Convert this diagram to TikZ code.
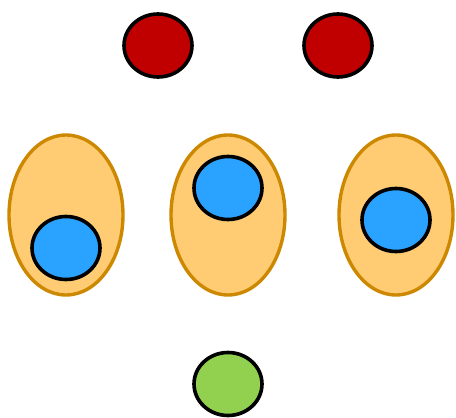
\documentclass[tikz,border=0pt]{standalone}
\usetikzlibrary{shapes.geometric}
\definecolor{redfill}{HTML}{C00000}
\definecolor{orangefill}{HTML}{FFCC73}
\definecolor{orangeline}{HTML}{CC8800}
\definecolor{bluefill}{HTML}{29A3FF}
\definecolor{greenfill}{HTML}{92D050}
\begin{document}
\begin{tikzpicture}[x=1pt,y=-1pt,
  blob/.style={ellipse, draw=black, line width=3.6pt, inner sep=0pt, minimum width=68pt, minimum height=63pt},
  redblob/.style={blob, fill=redfill},
  blueblob/.style={blob, fill=bluefill},
  greenblob/.style={blob, fill=greenfill},
  cell/.style={ellipse, draw=orangeline, fill=orangefill, line width=3.4pt, inner sep=0pt, minimum width=114pt, minimum height=160pt}]
\useasboundingbox (0,0) rectangle (456,418);
\node[redblob] (r1) at (158,45.5) {};
\node[redblob] (r2) at (338,45.5) {};
\node[cell] (c1) at (66,215) {};
\node[cell] (c2) at (228,215) {};
\node[cell] (c3) at (396,215) {};
\node[blueblob] (b1) at (66,248) {};
\node[blueblob] (b2) at (228,188) {};
\node[blueblob] (b3) at (396,220) {};
\node[greenblob] (g1) at (228,384) {};
\end{tikzpicture}
\end{document}
